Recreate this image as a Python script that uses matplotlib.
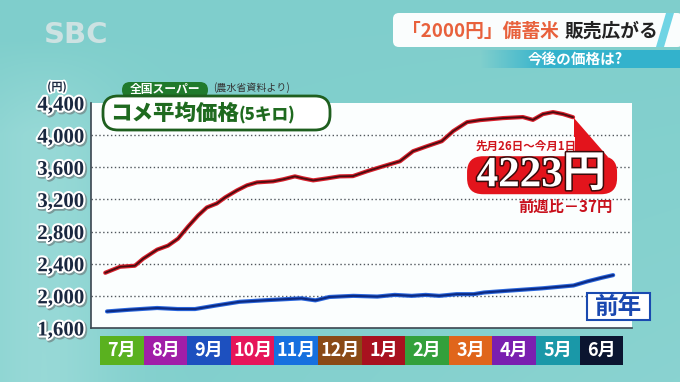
"""
Rice average price (5kg) at supermarkets, TV news style chart.
"""

import numpy as np
import matplotlib
matplotlib.use("Agg")
import matplotlib.pyplot as plt
import matplotlib.patheffects as pe
from matplotlib.patches import FancyBboxPatch, Polygon, Rectangle

JP = "Noto Sans CJK JP"
SERIF = ["Liberation Serif", "Noto Sans CJK JP"]

# ── Data (x in months since start of July) ───────────────────────────────────
MONTHS = ["7月", "8月", "9月", "10月", "11月", "12月", "1月", "2月", "3月", "4月", "5月", "6月"]
MONTH_COLORS = ["#5ab11f", "#a11ea8", "#1d50bf", "#e6155a", "#1670df", "#8a4a16",
                "#a8111f", "#33a03b", "#e0651b", "#7a1fb0", "#1a98a8", "#0b1530"]
Y_TICKS = [1600, 2000, 2400, 2800, 3200, 3600, 4000, 4400]

RED_X = [0.12, 0.46, 0.80, 0.99, 1.31, 1.56, 1.79, 2.02, 2.25, 2.45, 2.68, 2.87, 3.14,
         3.37, 3.60, 3.97, 4.20, 4.47, 4.66, 4.89, 5.21, 5.50, 5.80, 6.12, 6.49, 6.88,
         7.18, 7.50, 7.84, 8.10, 8.42, 8.72, 9.24, 9.70, 9.93, 10.16, 10.39, 10.62, 10.85]
RED_Y = [2287, 2362, 2375, 2462, 2575, 2625, 2712, 2862, 3000, 3100, 3150, 3225, 3312,
         3375, 3412, 3425, 3450, 3487, 3462, 3437, 3462, 3487, 3490, 3550, 3612, 3675,
         3800, 3862, 3925, 4050, 4162, 4187, 4212, 4225, 4190, 4262, 4287, 4262, 4223]

BLUE_X = [0.16, 0.67, 1.31, 1.78, 2.18, 2.65, 3.20, 3.84, 4.62, 4.94, 5.26, 5.81, 6.36,
          6.76, 7.15, 7.47, 7.78, 8.18, 8.57, 8.81, 9.36, 10.15, 10.86, 11.18, 11.50, 11.77]
BLUE_Y = [1806, 1827, 1849, 1836, 1836, 1879, 1926, 1947, 1969, 1944, 1986, 2000, 1991,
          2012, 2000, 2012, 2000, 2021, 2021, 2042, 2064, 2094, 2129, 2180, 2224, 2258]

LATEST = 4223
WEEK_DIFF = -37
PERIOD = "先月26日～今月1日"

W, H = 680, 382
MONTH_PX = 43.6    # pixel width of one month
X0_PX = 100        # pixel x of start of July


def fig_rect(x0, y0, x1, y1):
    return [x0 / W, 1 - y1 / H, (x1 - x0) / W, (y1 - y0) / H]


fig = plt.figure(figsize=(W / 100, H / 100), dpi=100)

# ── background ───────────────────────────────────────────────────────────────
ax_bg = fig.add_axes([0, 0, 1, 1], zorder=0)
gx = np.linspace(0, 1, 200)[None, :]
gy = np.linspace(0, 1, 120)[:, None]
base = np.array([0.50, 0.81, 0.80])
light = np.array([0.68, 0.89, 0.88])
vert = np.clip((gy - 0.10) / 0.25, 0, 1)
mix = np.clip(0.5 * np.exp(-((gx - 0.06) / 0.11) ** 2) * vert + 0.22 * gy * gx, 0, 1)
img = base[None, None, :] * (1 - mix[..., None]) + light[None, None, :] * mix[..., None]
ax_bg.imshow(img, extent=[0, W, H, 0], aspect="auto", interpolation="bilinear")
ax_bg.set_xlim(0, W)
ax_bg.set_ylim(H, 0)
ax_bg.axis("off")

# ── main chart ───────────────────────────────────────────────────────────────
ax = fig.add_axes(fig_rect(91, 103, 632, 328), zorder=2)
ax.set_facecolor("#fbfefe")
ax.set_xlim((91 - X0_PX) / MONTH_PX, (632 - X0_PX) / MONTH_PX)
ax.set_ylim(1600, 4400)
for s in ["top", "right"]:
    ax.spines[s].set_visible(False)
for s in ["left", "bottom"]:
    ax.spines[s].set_color("#3c4650")
    ax.spines[s].set_linewidth(1.2)
ax.set_xticks([])
ax.set_yticks(Y_TICKS)
ax.set_yticklabels([f"{v:,}" for v in Y_TICKS])
ax.tick_params(axis="y", length=0, pad=5, labelsize=15, labelcolor="#1a2840")
for lbl in ax.get_yticklabels():
    lbl.set_fontfamily("Liberation Serif")
    lbl.set_fontweight("bold")
    lbl.set_path_effects([pe.Stroke(linewidth=3.5, foreground="#7a9a9a", offset=(1, -1)),
                          pe.Stroke(linewidth=3, foreground="white"), pe.Normal()])

for v in Y_TICKS[1:-1]:
    ax.axhline(v, color="#50565c", lw=1.0, linestyle=(0, (1.0, 1.8)), zorder=1)

ax.plot(BLUE_X, BLUE_Y, color="#0c2a82", lw=1.5, zorder=3, solid_capstyle="round",
        path_effects=[pe.Stroke(linewidth=3.0, foreground="#2a66dc"), pe.Normal()])
ax.plot(RED_X, RED_Y, color="#4a0c10", lw=1.3, zorder=4, solid_capstyle="round",
        path_effects=[pe.Stroke(linewidth=3.0, foreground="#d8202c"), pe.Normal()])

# ── month bar ────────────────────────────────────────────────────────────────
axm = fig.add_axes(fig_rect(91, 336, 632, 365), zorder=2)
axm.set_xlim(ax.get_xlim())
axm.set_ylim(0, 1)
axm.bar(np.arange(len(MONTHS)), 1, width=1.0, align="edge", color=MONTH_COLORS)
for i, m in enumerate(MONTHS):
    axm.text(i + 0.5, 0.5, m, ha="center", va="center", color="white",
             fontsize=13, fontweight="bold", family=JP)
axm.axis("off")

# ── overlay (pixel coordinates) ──────────────────────────────────────────────
ov = fig.add_axes([0, 0, 1, 1], zorder=10)
ov.set_xlim(0, W)
ov.set_ylim(H, 0)
ov.axis("off")
ov.patch.set_alpha(0)

# logo
ov.text(76, 35, "SBC", ha="center", va="center", fontsize=21, fontweight="bold",
        color="#dbe6e6", alpha=0.85, family="DejaVu Sans")

# header
ov.add_patch(FancyBboxPatch((393, 13), 290, 34, boxstyle="round,pad=0,rounding_size=6",
                            fc="white", ec="none", alpha=0.97))
ov.add_patch(Polygon([(666, 13), (674, 13), (664, 47), (656, 47)], closed=True,
                     fc="#6fd4e4", ec="none"))
ov.text(402, 31, "「2000円」備蓄米", ha="left", va="center", fontsize=13.5,
        fontweight="bold", color="#e8613c", family=JP)
ov.text(565, 31, "販売広がる", ha="left", va="center", fontsize=13.5,
        fontweight="bold", color="#222222", family=JP)

# sub-header ribbon
rib = np.zeros((2, 200, 4))
rib[..., :3] = np.array([0.20, 0.70, 0.80])
rib[..., 3] = np.clip(np.linspace(0, 1, 200) * 3.0, 0, 1)[None, :]
ov.imshow(rib, extent=[480, 680, 68, 50], aspect="auto", zorder=1)
ov.text(575, 60, "今後の価格は?", ha="center", va="center", fontsize=10.5,
        fontweight="bold", color="white", family=JP, zorder=2)

# unit label
ov.text(57, 87, "(円)", ha="center", va="center", fontsize=8, fontweight="bold",
        color="#1a2840", family=JP,
        path_effects=[pe.Stroke(linewidth=2.5, foreground="white"), pe.Normal()])

# title
ov.add_patch(FancyBboxPatch((122, 82), 86, 16, boxstyle="round,pad=0,rounding_size=8",
                            fc="#207a2c", ec="none"))
ov.text(165, 90, "全国スーパー", ha="center", va="center", fontsize=8.5,
        fontweight="bold", color="white", family=JP)
ov.text(213, 88, "(農水省資料より)", ha="left", va="center", fontsize=7.2,
        color="#333333", family=JP)
ov.add_patch(FancyBboxPatch((103, 96), 227, 34, boxstyle="round,pad=0,rounding_size=15",
                            fc="white", ec="#1f5f1f", lw=2))
ov.text(110, 113, "コメ平均価格", ha="left", va="center", fontsize=15.5,
        fontweight="heavy", color="#1f6a1f", family=JP)
ov.text(239, 114, "(5キロ)", ha="left", va="center", fontsize=12,
        fontweight="heavy", color="#1f6a1f", family=JP)

# callout anchored on last red point
tx, ty = ax.transData.transform((RED_X[-1], RED_Y[-1]))
ty = H - ty
ov.add_patch(Polygon([(tx + 1, ty + 1), (tx + 1, ty + 40), (tx + 35, ty + 40)],
                     closed=True, fc="#e3141c", ec="none"))
ov.add_patch(FancyBboxPatch((tx - 106, ty + 39), 150, 38,
                            boxstyle="round,pad=0,rounding_size=16",
                            fc="#e3141c", ec="none"))
ov.add_patch(Rectangle((tx - 97, ty + 20), 99, 17, fc="white", ec="none"))
ov.text(tx - 47, ty + 29, PERIOD, ha="center", va="center", fontsize=8.3,
        fontweight="bold", color="#d0141c", family=JP)
ov.text(tx - 32, ty + 59, f"{LATEST}円", ha="center", va="center", fontsize=31,
        fontweight="bold", color="white", family=SERIF,
        path_effects=[pe.Stroke(linewidth=2.2, foreground="#3a0a0a"), pe.Normal()])
ov.text(tx + 39, ty + 90, f"前週比－{abs(WEEK_DIFF)}円", ha="right", va="center",
        fontsize=11, fontweight="bold", color="#c8101c", family=JP)

# previous-year label
ov.add_patch(Rectangle((587, 293), 63, 27, fc="white", ec="#1a4ab0", lw=1.5))
ov.text(618.5, 306.5, "前年", ha="center", va="center", fontsize=17,
        fontweight="bold", color="#1a48b0", family=JP)

fig.savefig("out.png", dpi=100, facecolor="#84d2d0")
plt.close(fig)
